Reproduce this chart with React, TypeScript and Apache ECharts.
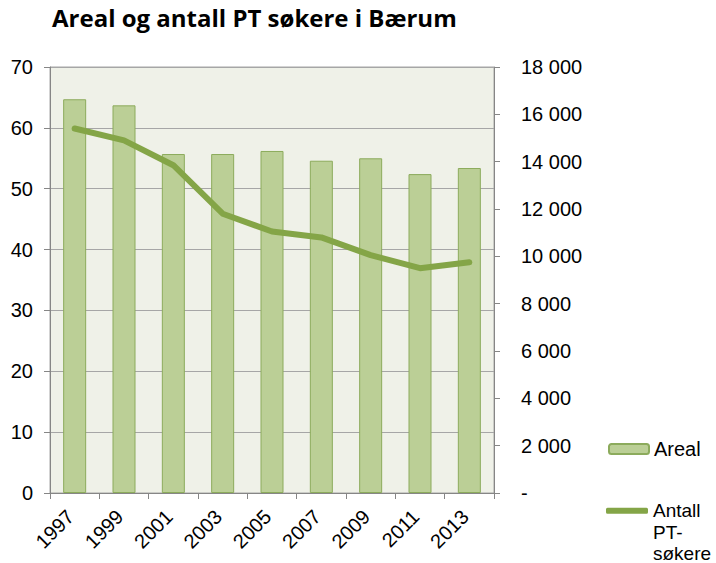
import React, { useEffect, useRef } from "react";
import * as echarts from "echarts";

const years = ["1997", "1999", "2001", "2003", "2005", "2007", "2009", "2011", "2013"];
const areal = [64.7, 63.7, 55.7, 55.7, 56.2, 54.6, 55.0, 52.4, 53.4];
const antallPT = [15400, 14900, 13850, 11800, 11050, 10800, 10050, 9500, 9750];
const leftTicks = { min: 0, max: 70, interval: 10 };
const rightTicks = { min: 0, max: 18000, interval: 2000 };

const fmtThousands = (v: number) =>
  v === 0 ? "-" : String(v).replace(/\B(?=(\d{3})+(?!\d))/g, " ");

export default function App() {
  const ref = useRef<HTMLDivElement>(null);
  useEffect(() => {
    if (!ref.current) return;
    const chart = echarts.init(ref.current, null, { renderer: "svg" });
    const axisFont = { fontFamily: "Liberation Sans", color: "#000", fontSize: 20 };
    chart.setOption({
      animation: false,
      backgroundColor: "#fff",
      title: {
        text: "Areal og antall PT søkere i Bærum",
        left: 52,
        top: 5,
        padding: 0,
        textStyle: { fontFamily: "Open Sans", fontWeight: "bold", fontSize: 24, color: "#000" },
      },
      grid: {
        left: 50,
        right: 222,
        top: 67,
        bottom: 70,
        show: true,
        backgroundColor: "#eff1e8",
        borderColor: "#a6a6a6",
        borderWidth: 1,
      },
      legend: [
        {
          data: ["Areal"],
          left: 603,
          top: 434,
          orient: "vertical",
          itemWidth: 40,
          itemHeight: 10,
          textStyle: { ...axisFont },
        },
        {
          data: [{ name: "Antall PT-søkere", icon: "roundRect" }],
          left: 601,
          top: 452,
          orient: "vertical",
          itemWidth: 42,
          itemHeight: 6,
          formatter: () => " \n \nAntall\nPT-\nsøkere",
          textStyle: { ...axisFont, fontSize: 19, lineHeight: 21.5 },
        },
      ],
      xAxis: {
        type: "category",
        data: years,
        axisLine: { lineStyle: { color: "#868686" } },
        axisTick: { show: true, length: 6, lineStyle: { color: "#868686" } },
        axisLabel: {
          ...axisFont,
          fontSize: 20,
          rotate: 45,
          margin: 16,
          padding: [0, 6, 0, 0],
          interval: 0,
        },
      },
      yAxis: [
        {
          type: "value",
          ...leftTicks,
          axisLine: { show: true, lineStyle: { color: "#868686" } },
          axisTick: { show: true, length: 6, lineStyle: { color: "#868686" } },
          axisLabel: { ...axisFont, margin: 17 },
          splitLine: { lineStyle: { color: "#a6a6a6" } },
        },
        {
          type: "value",
          position: "right",
          ...rightTicks,
          axisLine: { show: true, lineStyle: { color: "#868686" } },
          axisTick: { show: true, length: 6, lineStyle: { color: "#868686" } },
          axisLabel: { ...axisFont, margin: 27, formatter: fmtThousands },
          splitLine: { show: false },
        },
      ],
      series: [
        {
          name: "Areal",
          type: "bar",
          data: areal,
          yAxisIndex: 0,
          barWidth: 23,
          itemStyle: { color: "#bbcf96", borderColor: "#8cab5c", borderWidth: 1 },
        },
        {
          name: "Antall PT-søkere",
          type: "line",
          data: antallPT,
          yAxisIndex: 1,
          symbol: "none",
          lineStyle: { color: "#84a547", width: 6, cap: "round", join: "round" },
          itemStyle: { color: "#84a547" },
        },
      ],
    });
    return () => chart.dispose();
  }, []);
  return (
    <div
      ref={ref}
      style={{ position: "fixed", left: 0, top: 0, width: 716, height: 563 }}
    />
  );
}
